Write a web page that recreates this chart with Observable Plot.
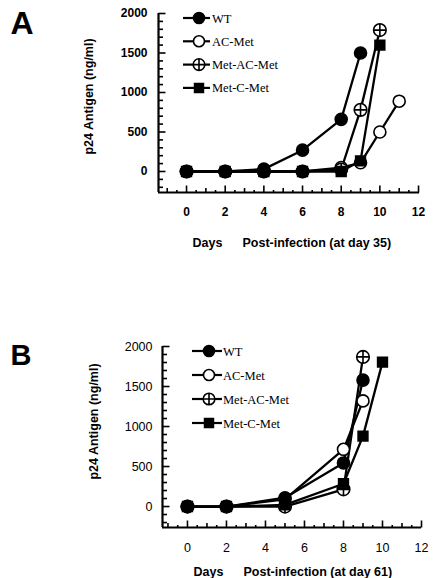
<!DOCTYPE html>
<html>
<head>
<meta charset="utf-8">
<script src="https://cdn.jsdelivr.net/npm/d3@7"></script>
<script src="https://cdn.jsdelivr.net/npm/@observablehq/plot@0.6"></script>
<style>
  html, body { margin: 0; padding: 0; background: #fff; }
  #chart svg { display: block; }
</style>
</head>
<body>
<div id="chart"></div>
<script>
// Series names, in legend order
const seriesNames = ["WT", "AC-Met", "Met-AC-Met", "Met-C-Met"];

// Panel A: p24 antigen (ng/ml) after infection at day 35
const daysA_WT  = [0, 2, 4, 6, 8, 9];
const p24A_WT   = [0, 0, 30, 270, 660, 1500];
const daysA_AC  = [0, 2, 4, 6, 8, 9, 10, 11];
const p24A_AC   = [0, 0, 0, 0, 50, 110, 500, 890];
const daysA_MAC = [0, 2, 4, 6, 8, 9, 10];
const p24A_MAC  = [0, 0, 0, 0, 25, 780, 1790];
const daysA_MC  = [0, 2, 4, 6, 8, 9, 10];
const p24A_MC   = [0, 0, 0, 0, 0, 135, 1600];

// Panel B: p24 antigen (ng/ml) after infection at day 61
const daysB_WT  = [0, 2, 5, 8, 9];
const p24B_WT   = [0, 0, 110, 545, 1580];
const daysB_AC  = [0, 2, 5, 8, 9];
const p24B_AC   = [0, 0, 90, 715, 1320];
const daysB_MAC = [0, 2, 5, 8, 9];
const p24B_MAC  = [0, 0, 0, 215, 1870];
const daysB_MC  = [0, 2, 5, 8, 9, 10];
const p24B_MC   = [0, 0, 20, 285, 880, 1805];

// Axis tick labels
const yTickLabels = [0, 500, 1000, 1500, 2000];
const xTickLabels = [0, 2, 4, 6, 8, 10, 12];

const zip = (name, days, vals) => days.map((d, i) => ({series: name, day: d, p24: vals[i]}));

// Tick marks drawn as custom dot symbols (length = r)
const hTick = {draw(ctx, size) { const l = Math.sqrt(size / Math.PI); ctx.moveTo(0, 0); ctx.lineTo(l, 0); }};
const vTick = {draw(ctx, size) { const l = Math.sqrt(size / Math.PI); ctx.moveTo(0, 0); ctx.lineTo(0, -l); }};
// Circle with a cross inside
const circlePlus = {draw(ctx, size) {
  const r = Math.sqrt(size / Math.PI);
  ctx.moveTo(r, 0); ctx.arc(0, 0, r, 0, 2 * Math.PI);
  ctx.moveTo(-r, 0); ctx.lineTo(r, 0);
  ctx.moveTo(0, -r); ctx.lineTo(0, r);
}};

const markerStyle = {
  "WT":         {symbol: "circle", fill: "black", r: 6},
  "AC-Met":     {symbol: "circle", fill: "white", r: 6},
  "Met-AC-Met": {symbol: circlePlus, fill: "white", r: 6.3},
  "Met-C-Met":  {symbol: "square", fill: "black", r: 5.5}
};
// Drawing order: WT markers on top
const drawOrder = ["AC-Met", "Met-AC-Met", "Met-C-Met", "WT"];

function panel(cfg) {
  const [xmin, xmax] = cfg.xDomain;
  const [ymin, ymax] = cfg.yDomain;
  const data = cfg.series;
  const yMinor = d3.range(-200, 2001, 100).filter(v => v % 500 !== 0);
  const yMajor = d3.range(0, 2001, 500);
  const xMajor = d3.range(0, 12.01, 2);
  const xMid = d3.range(-1, 12.01, 2);
  const xMinor = d3.range(-0.5, 12.01, 1);
  const tickStyle = {fill: "none", stroke: "black", strokeWidth: 1.6};

  const marks = [
    // axes
    Plot.ruleX([xmin], {y1: ymin, y2: ymax, stroke: "black", strokeWidth: 2.2}),
    Plot.ruleY([ymin], {x1: xmin, x2: xmax, stroke: "black", strokeWidth: 2.2}),
    Plot.dot(yMajor, {x: xmin, y: d => d, symbol: hTick, r: 7, ...tickStyle}),
    Plot.dot(yMinor, {x: xmin, y: d => d, symbol: hTick, r: 4.5, ...tickStyle}),
    Plot.dot(xMajor, {x: d => d, y: ymin, symbol: vTick, r: 7, ...tickStyle}),
    Plot.dot(xMid, {x: d => d, y: ymin, symbol: vTick, r: 4.5, ...tickStyle}),
    Plot.dot(xMinor, {x: d => d, y: ymin, symbol: vTick, r: 2.5, ...tickStyle}),
    Plot.text(yTickLabels, {x: xmin, y: d => d, text: d => String(d), textAnchor: "end",
      dx: cfg.yLabelDx, fontSize: cfg.tickFont, fontWeight: cfg.tickWeight}),
    Plot.text(xTickLabels, {x: d => d, y: ymin, text: d => String(d), dy: 20,
      fontSize: cfg.tickFont, fontWeight: cfg.tickWeight}),
    // axis titles
    Plot.text(["p24 Antigen (ng/ml)"], {frameAnchor: "left", rotate: -90, textAnchor: "middle",
      dx: cfg.yTitle[0], dy: cfg.yTitle[1], fontSize: 12.5, fontWeight: "bold"}),
    Plot.text(["Days"], {frameAnchor: "bottom-left", textAnchor: "start", dx: cfg.xTitle[0], dy: cfg.xTitle[2],
      fontSize: 12.5, fontWeight: "bold"}),
    Plot.text([cfg.xTitleText], {frameAnchor: "bottom-left", textAnchor: "start", dx: cfg.xTitle[1], dy: cfg.xTitle[2],
      fontSize: 12.5, fontWeight: "bold"}),
    // panel letter
    Plot.text([cfg.letter], {frameAnchor: "top-left", textAnchor: "start", lineAnchor: "bottom",
      dx: cfg.letterPos[0], dy: cfg.letterPos[1], fontSize: cfg.letterSize, fontWeight: "bold"}),
    // series lines
    ...seriesNames.map(name => Plot.line(data.filter(d => d.series === name),
      {x: "day", y: "p24", stroke: "black", strokeWidth: 2.3})),
    // series markers
    ...drawOrder.map(name => Plot.dot(data.filter(d => d.series === name),
      {x: "day", y: "p24", stroke: "black", strokeWidth: 1.6, ...markerStyle[name]}))
  ];

  const svg = Plot.plot({
    width: 434, height: 289,
    marginLeft: cfg.margins[0], marginTop: cfg.margins[1], marginRight: cfg.margins[2], marginBottom: cfg.margins[3],
    x: {domain: cfg.xDomain, axis: null},
    y: {domain: cfg.yDomain, axis: null},
    style: {fontFamily: "'Liberation Sans', Arial, Helvetica, sans-serif", color: "black", background: "white", overflow: "visible"},
    marks
  });

  // legend
  const lg = cfg.legend;
  const g = d3.select(svg).append("g").attr("stroke", "black");
  seriesNames.forEach((name, i) => {
    const cy = lg.y0 + i * lg.dy;
    g.append("line").attr("x1", lg.x1).attr("x2", lg.x2).attr("y1", cy).attr("y2", cy).attr("stroke-width", 2.2);
    const m = markerStyle[name];
    const sym = typeof m.symbol === "string" ? (m.symbol === "square" ? d3.symbolSquare : d3.symbolCircle) : m.symbol;
    const r = m.r - 0.5;
    g.append("path").attr("d", d3.symbol(sym, Math.PI * r * r)())
      .attr("transform", `translate(${lg.xm},${cy})`)
      .attr("fill", m.fill).attr("stroke-width", 1.6);
    g.append("text").attr("x", lg.xt).attr("y", cy + 4.5).attr("stroke", "none").attr("fill", "black")
      .attr("text-anchor", "start")
      .attr("font-family", "'Liberation Serif', 'Times New Roman', serif").attr("font-size", 12.5)
      .text(name);
  });
  return svg;
}

const root = document.getElementById("chart");

root.appendChild(panel({
  letter: "A", letterSize: 32, letterPos: [-148, 20],
  series: [
    ...zip("WT", daysA_WT, p24A_WT), ...zip("AC-Met", daysA_AC, p24A_AC),
    ...zip("Met-AC-Met", daysA_MAC, p24A_MAC), ...zip("Met-C-Met", daysA_MC, p24A_MC)
  ],
  xDomain: [-1.45, 12.05], yDomain: [-266, 2000],
  margins: [158, 13, 15, 97],
  tickFont: 12, tickWeight: "bold", yLabelDx: -11,
  yTitle: [-70, -6.5],
  xTitle: [34, 84, 54], xTitleText: "Post-infection (at day 35)",
  legend: {x1: 183, x2: 210, xm: 199, xt: 212, y0: 18, dy: 23.3}
}));

root.appendChild(panel({
  letter: "B", letterSize: 29, letterPos: [-152, 18],
  series: [
    ...zip("WT", daysB_WT, p24B_WT), ...zip("AC-Met", daysB_AC, p24B_AC),
    ...zip("Met-AC-Met", daysB_MAC, p24B_MAC), ...zip("Met-C-Met", daysB_MC, p24B_MC)
  ],
  xDomain: [-1.28, 12.0], yDomain: [-262, 2000],
  margins: [162, 57, 13, 51],
  tickFont: 12.5, tickWeight: "normal", yLabelDx: -10,
  yTitle: [-69, -15.5],
  xTitle: [31, 81, 48], xTitleText: "Post-infection (at day 61)",
  legend: {x1: 192, x2: 222, xm: 209, xt: 223, y0: 62, dy: 24}
}));
</script>
</body>
</html>
